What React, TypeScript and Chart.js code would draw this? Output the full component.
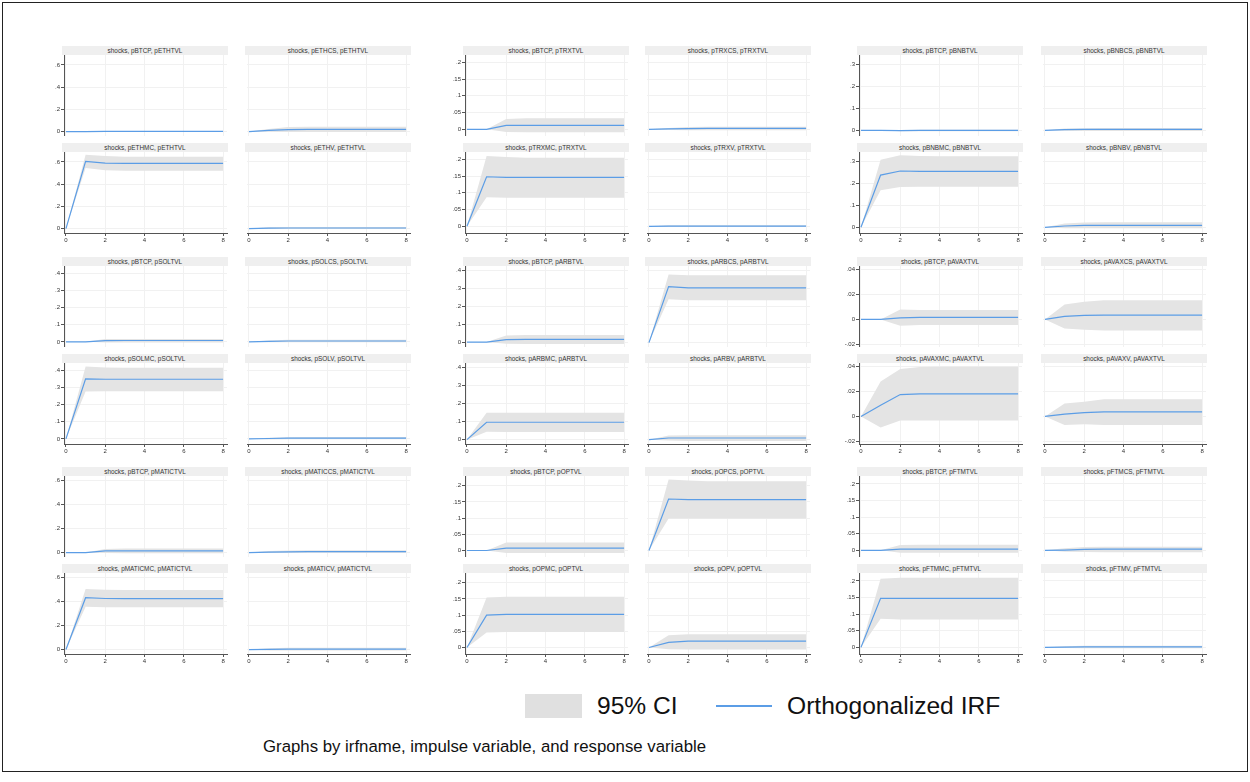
import React, { useEffect, useRef } from 'react';
import { Chart, registerables } from 'chart.js';
Chart.register(...registerables);

// ---------- DATA ----------
const steps = [0, 1, 2, 3, 4, 5, 6, 7, 8];
const xTicks = [0, 2, 4, 6, 8];

// panel titles, row-major (6 rows x 6 columns)
const titles = [
  'shocks, pBTCP, pETHTVL', 'shocks, pETHCS, pETHTVL', 'shocks, pBTCP, pTRXTVL', 'shocks, pTRXCS, pTRXTVL', 'shocks, pBTCP, pBNBTVL', 'shocks, pBNBCS, pBNBTVL',
  'shocks, pETHMC, pETHTVL', 'shocks, pETHV, pETHTVL', 'shocks, pTRXMC, pTRXTVL', 'shocks, pTRXV, pTRXTVL', 'shocks, pBNBMC, pBNBTVL', 'shocks, pBNBV, pBNBTVL',
  'shocks, pBTCP, pSOLTVL', 'shocks, pSOLCS, pSOLTVL', 'shocks, pBTCP, pARBTVL', 'shocks, pARBCS, pARBTVL', 'shocks, pBTCP, pAVAXTVL', 'shocks, pAVAXCS, pAVAXTVL',
  'shocks, pSOLMC, pSOLTVL', 'shocks, pSOLV, pSOLTVL', 'shocks, pARBMC, pARBTVL', 'shocks, pARBV, pARBTVL', 'shocks, pAVAXMC, pAVAXTVL', 'shocks, pAVAXV, pAVAXTVL',
  'shocks, pBTCP, pMATICTVL', 'shocks, pMATICCS, pMATICTVL', 'shocks, pBTCP, pOPTVL', 'shocks, pOPCS, pOPTVL', 'shocks, pBTCP, pFTMTVL', 'shocks, pFTMCS, pFTMTVL',
  'shocks, pMATICMC, pMATICTVL', 'shocks, pMATICV, pMATICTVL', 'shocks, pOPMC, pOPTVL', 'shocks, pOPV, pOPTVL', 'shocks, pFTMMC, pFTMTVL', 'shocks, pFTMV, pFTMTVL',
];

// Orthogonalized IRF, row-major
const irf = [
  [0, 0, 0.001, 0.001, 0.001, 0.001, 0.001, 0.001, 0.001],
  [0, 0.01, 0.018, 0.019, 0.019, 0.019, 0.019, 0.019, 0.019],
  [0, 0, 0.012, 0.012, 0.012, 0.012, 0.012, 0.012, 0.012],
  [0, 0.001, 0.002, 0.003, 0.003, 0.003, 0.003, 0.003, 0.003],
  [0, 0, -0.001, 0, 0, 0, 0, 0, 0],
  [0, 0.003, 0.004, 0.004, 0.004, 0.004, 0.004, 0.004, 0.004],

  [0, 0.605, 0.59, 0.588, 0.588, 0.588, 0.588, 0.588, 0.588],
  [0, 0.004, 0.005, 0.005, 0.005, 0.005, 0.005, 0.005, 0.005],
  [0, 0.148, 0.146, 0.146, 0.146, 0.146, 0.146, 0.146, 0.146],
  [0, 0.0005, 0.0005, 0.0005, 0.0005, 0.0005, 0.0005, 0.0005, 0.0005],
  [0, 0.239, 0.258, 0.256, 0.256, 0.256, 0.256, 0.256, 0.256],
  [0, 0.006, 0.009, 0.009, 0.009, 0.009, 0.009, 0.009, 0.009],

  [0, 0, 0.007, 0.008, 0.008, 0.008, 0.008, 0.008, 0.008],
  [0, 0.003, 0.005, 0.005, 0.005, 0.005, 0.005, 0.005, 0.005],
  [0.003, 0.003, 0.017, 0.018, 0.018, 0.018, 0.018, 0.018, 0.018],
  [0, 0.309, 0.302, 0.302, 0.302, 0.302, 0.302, 0.302, 0.302],
  [0, 0, 0.0013, 0.0016, 0.0016, 0.0016, 0.0016, 0.0016, 0.0016],
  [0, 0.0024, 0.0032, 0.0035, 0.0035, 0.0035, 0.0035, 0.0035, 0.0035],

  [0, 0.35, 0.348, 0.348, 0.348, 0.348, 0.348, 0.348, 0.348],
  [0, 0.002, 0.004, 0.004, 0.004, 0.004, 0.004, 0.004, 0.004],
  [0, 0.096, 0.096, 0.096, 0.096, 0.096, 0.096, 0.096, 0.096],
  [0, 0.009, 0.009, 0.009, 0.009, 0.009, 0.009, 0.009, 0.009],
  [0, 0.009, 0.0175, 0.018, 0.018, 0.018, 0.018, 0.018, 0.018],
  [0, 0.0019, 0.003, 0.0036, 0.0036, 0.0036, 0.0036, 0.0036, 0.0036],

  [0, 0, 0.014, 0.014, 0.014, 0.014, 0.014, 0.014, 0.014],
  [0, 0.003, 0.006, 0.007, 0.008, 0.008, 0.008, 0.008, 0.008],
  [0, 0, 0.0072, 0.0072, 0.0072, 0.0072, 0.0072, 0.0072, 0.0072],
  [0, 0.159, 0.157, 0.157, 0.157, 0.157, 0.157, 0.157, 0.157],
  [0, 0, 0.004, 0.004, 0.004, 0.004, 0.004, 0.004, 0.004],
  [0, 0.001, 0.003, 0.0035, 0.0035, 0.0035, 0.0035, 0.0035, 0.0035],

  [0, 0.431, 0.424, 0.423, 0.423, 0.423, 0.423, 0.423, 0.423],
  [0, 0.002, 0.003, 0.003, 0.003, 0.003, 0.003, 0.003, 0.003],
  [0, 0.1, 0.102, 0.102, 0.102, 0.102, 0.102, 0.102, 0.102],
  [0, 0.016, 0.0195, 0.0196, 0.0196, 0.0196, 0.0196, 0.0196, 0.0196],
  [0, 0.1475, 0.1475, 0.1475, 0.1475, 0.1475, 0.1475, 0.1475, 0.1475],
  [0, 0.0008, 0.0015, 0.0015, 0.0015, 0.0015, 0.0015, 0.0015, 0.0015],
];

// 95% CI lower bound, row-major
const ciLow = [
  [0, 0, -0.002, -0.003, -0.003, -0.003, -0.003, -0.003, -0.003],
  [0, -0.002, -0.004, -0.005, -0.005, -0.005, -0.005, -0.005, -0.005],
  [0, 0, -0.008, -0.009, -0.009, -0.009, -0.009, -0.009, -0.009],
  [0, -0.002, -0.003, -0.003, -0.003, -0.003, -0.003, -0.003, -0.003],
  [0, 0, -0.004, -0.004, -0.004, -0.004, -0.004, -0.004, -0.004],
  [0, -0.002, -0.003, -0.003, -0.003, -0.003, -0.003, -0.003, -0.003],

  [0, 0.545, 0.525, 0.522, 0.522, 0.522, 0.522, 0.522, 0.522],
  [0, -0.004, -0.005, -0.005, -0.005, -0.005, -0.005, -0.005, -0.005],
  [0, 0.087, 0.085, 0.085, 0.085, 0.085, 0.085, 0.085, 0.085],
  [0, -0.002, -0.002, -0.002, -0.002, -0.002, -0.002, -0.002, -0.002],
  [0, 0.17, 0.185, 0.186, 0.186, 0.186, 0.186, 0.186, 0.186],
  [0, -0.004, -0.004, -0.004, -0.004, -0.004, -0.004, -0.004, -0.004],

  [0, 0, -0.003, -0.004, -0.004, -0.004, -0.004, -0.004, -0.004],
  [0, -0.002, -0.002, -0.002, -0.002, -0.002, -0.002, -0.002, -0.002],
  [0.003, 0.003, -0.006, -0.007, -0.007, -0.007, -0.007, -0.007, -0.007],
  [0, 0.24, 0.234, 0.234, 0.234, 0.234, 0.234, 0.234, 0.234],
  [0, 0, -0.005, -0.0045, -0.0045, -0.0045, -0.0045, -0.0045, -0.0045],
  [0, -0.0073, -0.0083, -0.0089, -0.0089, -0.0089, -0.0089, -0.0089, -0.0089],

  [0, 0.277, 0.278, 0.278, 0.278, 0.278, 0.278, 0.278, 0.278],
  [0, -0.003, -0.002, -0.002, -0.002, -0.002, -0.002, -0.002, -0.002],
  [0, 0.043, 0.042, 0.042, 0.042, 0.042, 0.042, 0.042, 0.042],
  [0, -0.005, -0.007, -0.007, -0.007, -0.007, -0.007, -0.007, -0.007],
  [0, -0.0088, -0.0033, -0.0033, -0.0033, -0.0033, -0.0033, -0.0033, -0.0033],
  [0, -0.0068, -0.0063, -0.0068, -0.0068, -0.0068, -0.0068, -0.0068, -0.0068],

  [0, 0, -0.004, -0.005, -0.005, -0.005, -0.005, -0.005, -0.005],
  [0, -0.004, -0.004, -0.003, -0.003, -0.003, -0.003, -0.003, -0.003],
  [0, 0, -0.008, -0.008, -0.008, -0.008, -0.008, -0.008, -0.008],
  [0, 0.099, 0.099, 0.099, 0.099, 0.099, 0.099, 0.099, 0.099],
  [0, 0, -0.007, -0.007, -0.007, -0.007, -0.007, -0.007, -0.007],
  [0, -0.004, -0.005, -0.006, -0.006, -0.006, -0.006, -0.006, -0.006],

  [0, 0.356, 0.352, 0.351, 0.351, 0.351, 0.351, 0.351, 0.351],
  [0, -0.007, -0.008, -0.008, -0.008, -0.008, -0.008, -0.008, -0.008],
  [0, 0.046, 0.048, 0.048, 0.048, 0.048, 0.048, 0.048, 0.048],
  [0, -0.005, -0.006, -0.006, -0.006, -0.006, -0.006, -0.006, -0.006],
  [0, 0.086, 0.084, 0.084, 0.084, 0.084, 0.084, 0.084, 0.084],
  [0, -0.002, -0.003, -0.003, -0.003, -0.003, -0.003, -0.003, -0.003],
];

// 95% CI upper bound, row-major
const ciHigh = [
  [0, 0, 0.004, 0.005, 0.005, 0.005, 0.005, 0.005, 0.005],
  [0, 0.022, 0.04, 0.043, 0.044, 0.044, 0.044, 0.044, 0.044],
  [0, 0, 0.031, 0.033, 0.033, 0.033, 0.033, 0.033, 0.033],
  [0, 0.004, 0.007, 0.008, 0.008, 0.008, 0.008, 0.008, 0.008],
  [0, 0, 0.002, 0.003, 0.003, 0.003, 0.003, 0.003, 0.003],
  [0, 0.008, 0.01, 0.011, 0.011, 0.011, 0.011, 0.011, 0.011],

  [0, 0.665, 0.655, 0.648, 0.647, 0.647, 0.647, 0.647, 0.647],
  [0, 0.012, 0.015, 0.015, 0.015, 0.015, 0.015, 0.015, 0.015],
  [0, 0.21, 0.207, 0.205, 0.205, 0.205, 0.205, 0.205, 0.205],
  [0, 0.003, 0.003, 0.003, 0.003, 0.003, 0.003, 0.003, 0.003],
  [0, 0.31, 0.33, 0.327, 0.326, 0.326, 0.326, 0.326, 0.326],
  [0, 0.018, 0.022, 0.023, 0.023, 0.023, 0.023, 0.023, 0.023],

  [0, 0, 0.016, 0.017, 0.017, 0.017, 0.017, 0.017, 0.017],
  [0, 0.008, 0.012, 0.013, 0.013, 0.013, 0.013, 0.013, 0.013],
  [0.003, 0.003, 0.04, 0.042, 0.042, 0.042, 0.042, 0.042, 0.042],
  [0, 0.376, 0.372, 0.372, 0.372, 0.372, 0.372, 0.372, 0.372],
  [0, 0, 0.008, 0.0075, 0.0075, 0.0075, 0.0075, 0.0075, 0.0075],
  [0, 0.012, 0.0142, 0.0153, 0.0153, 0.0153, 0.0153, 0.0153, 0.0153],

  [0, 0.423, 0.417, 0.415, 0.415, 0.415, 0.415, 0.415, 0.415],
  [0, 0.007, 0.01, 0.011, 0.011, 0.011, 0.011, 0.011, 0.011],
  [0, 0.148, 0.148, 0.148, 0.148, 0.148, 0.148, 0.148, 0.148],
  [0, 0.023, 0.024, 0.024, 0.024, 0.024, 0.024, 0.024, 0.024],
  [0, 0.028, 0.038, 0.0395, 0.0397, 0.0397, 0.0397, 0.0397, 0.0397],
  [0, 0.0104, 0.0118, 0.0137, 0.0137, 0.0137, 0.0137, 0.0137, 0.0137],

  [0, 0, 0.03, 0.033, 0.033, 0.033, 0.033, 0.033, 0.033],
  [0, 0.012, 0.017, 0.019, 0.019, 0.019, 0.019, 0.019, 0.019],
  [0, 0, 0.025, 0.025, 0.025, 0.025, 0.025, 0.025, 0.025],
  [0, 0.219, 0.216, 0.214, 0.214, 0.214, 0.214, 0.214, 0.214],
  [0, 0, 0.016, 0.017, 0.017, 0.017, 0.017, 0.017, 0.017],
  [0, 0.006, 0.01, 0.011, 0.011, 0.011, 0.011, 0.011, 0.011],

  [0, 0.503, 0.497, 0.494, 0.494, 0.494, 0.494, 0.494, 0.494],
  [0, 0.011, 0.014, 0.014, 0.014, 0.014, 0.014, 0.014, 0.014],
  [0, 0.154, 0.157, 0.157, 0.157, 0.157, 0.157, 0.157, 0.157],
  [0, 0.038, 0.041, 0.041, 0.041, 0.041, 0.041, 0.041, 0.041],
  [0, 0.207, 0.21, 0.21, 0.21, 0.21, 0.21, 0.21, 0.21],
  [0, 0.003, 0.005, 0.005, 0.005, 0.005, 0.005, 0.005, 0.005],
];

// y-axis per block (ETH, TRX, BNB, SOL, ARB, AVAX, MATIC, OP, FTM)
const blockYMin = [-0.04, -0.02, -0.026, -0.03, -0.024, -0.022, -0.037, -0.02, -0.02];
const blockYMax = [0.69, 0.222, 0.345, 0.443, 0.423, 0.0427, 0.636, 0.23, 0.224];
const blockYTicks = [
  [0, 0.2, 0.4, 0.6],
  [0, 0.05, 0.1, 0.15, 0.2],
  [0, 0.1, 0.2, 0.3],
  [0, 0.1, 0.2, 0.3, 0.4],
  [0, 0.1, 0.2, 0.3, 0.4],
  [-0.02, 0, 0.02, 0.04],
  [0, 0.2, 0.4, 0.6],
  [0, 0.05, 0.1, 0.15, 0.2],
  [0, 0.05, 0.1, 0.15, 0.2],
];

// ---------- LAYOUT ----------
const FONT = '"Liberation Sans", Arial, sans-serif';
const blockLeft = [64, 465, 859];
const colPitch = [183, 182, 184];
const blockTop = [46, 257, 467];
const rowPitch = 97;
const stripH = 9;
const plotW = 163;
const plotH = 81;
const yAxisW = 22;
const xAxisH = 14;
const padR = 6;
const X_MIN = -0.1;
const X_MAX = 8.2;

const BLUE = '#5b9de6';
const BAND = '#e4e4e4';
const AXIS = '#555555';
const GRID = '#f1f1f1';

function fmt(v: number): string {
  const s = Number(v.toFixed(4)).toString();
  return s.replace(/^(-?)0\./, '$1.');
}

function Panel({ idx }: { idx: number }) {
  const ref = useRef<HTMLCanvasElement | null>(null);
  const R = Math.floor(idx / 6);
  const C = idx % 6;
  const br = Math.floor(R / 2);
  const r = R % 2;
  const bc = Math.floor(C / 2);
  const c = C % 2;
  const b = br * 3 + bc;
  const hasY = c === 0;
  const hasX = r === 1;
  const plotLeft = blockLeft[bc] + c * colPitch[bc];
  const stripTop = blockTop[br] + r * rowPitch;
  const plotTop = stripTop + stripH;
  const leftW = hasY ? yAxisW : 0;
  const bottomH = hasX ? xAxisH : 0;
  const cw = leftW + plotW + padR;
  const ch = plotH + bottomH;

  useEffect(() => {
    if (!ref.current) return;
    const chart = new Chart(ref.current, {
      type: 'line',
      data: {
        datasets: [
          {
            label: 'ciHigh',
            data: steps.map((x, i) => ({ x, y: ciHigh[idx][i] })),
            fill: '+1',
            backgroundColor: BAND,
            borderWidth: 0,
            borderColor: 'rgba(0,0,0,0)',
            pointRadius: 0,
            tension: 0,
            order: 2,
          },
          {
            label: 'ciLow',
            data: steps.map((x, i) => ({ x, y: ciLow[idx][i] })),
            fill: false,
            borderWidth: 0,
            borderColor: 'rgba(0,0,0,0)',
            pointRadius: 0,
            tension: 0,
            order: 3,
          },
          {
            label: 'irf',
            data: steps.map((x, i) => ({ x, y: irf[idx][i] })),
            fill: false,
            borderColor: BLUE,
            borderWidth: 1.2,
            pointRadius: 0,
            tension: 0,
            order: 0,
          },
        ],
      },
      options: {
        responsive: false,
        animation: false,
        events: [],
        layout: { padding: { left: 0, right: padR, top: 0, bottom: 0 } },
        plugins: {
          legend: { display: false },
          tooltip: { enabled: false },
          title: { display: false },
        },
        scales: {
          x: {
            type: 'linear',
            min: X_MIN,
            max: X_MAX,
            afterBuildTicks: (s: any) => {
              s.ticks = xTicks.map((v) => ({ value: v }));
            },
            afterFit: (s: any) => {
              s.height = bottomH;
              s.paddingLeft = 0;
              s.paddingRight = 0;
            },
            grid: {
              color: GRID,
              lineWidth: 1,
              drawTicks: hasX,
              tickLength: 3,
              tickColor: AXIS,
            },
            border: { display: hasX, color: AXIS, width: 1 },
            ticks: {
              display: hasX,
              font: { family: FONT, size: 6 },
              color: '#333333',
              padding: 1,
              maxRotation: 0,
              autoSkip: false,
              callback: (v: any) => String(v),
            },
          },
          y: {
            type: 'linear',
            min: blockYMin[b],
            max: blockYMax[b],
            afterBuildTicks: (s: any) => {
              s.ticks = blockYTicks[b].map((v) => ({ value: v }));
            },
            afterFit: (s: any) => {
              s.width = leftW;
              s.paddingTop = 0;
              s.paddingBottom = 0;
            },
            grid: {
              color: GRID,
              lineWidth: 1,
              drawTicks: hasY,
              tickLength: 3,
              tickColor: AXIS,
            },
            border: { display: hasY, color: AXIS, width: 1 },
            ticks: {
              display: hasY,
              font: { family: FONT, size: 6 },
              color: '#333333',
              padding: 1,
              autoSkip: false,
              callback: (v: any) => fmt(Number(v)),
            },
          },
        },
      },
    } as any);
    return () => chart.destroy();
  }, [idx]);

  return (
    <>
      <div
        style={{
          position: 'absolute',
          left: plotLeft - 2,
          top: stripTop,
          width: plotW + 3,
          height: stripH,
          background: '#efefef',
          color: '#333',
          fontFamily: FONT,
          fontSize: 6.4,
          lineHeight: `${stripH}px`,
          textAlign: 'center',
          whiteSpace: 'nowrap',
        }}
      >
        {titles[idx]}
      </div>
      <canvas
        ref={ref}
        width={cw}
        height={ch}
        style={{ position: 'absolute', left: plotLeft - leftW, top: plotTop, width: cw, height: ch }}
      />
    </>
  );
}

export default function App() {
  return (
    <div
      style={{
        position: 'fixed',
        left: 0,
        top: 0,
        width: 1250,
        height: 782,
        background: '#ffffff',
        overflow: 'hidden',
      }}
    >
      <div
        style={{
          position: 'absolute',
          left: 2,
          top: 2,
          width: 1244,
          height: 768,
          border: '1px solid #222',
        }}
      />
      {titles.map((_, i) => (
        <Panel key={i} idx={i} />
      ))}
      {/* legend */}
      <div style={{ position: 'absolute', left: 525, top: 694, width: 57, height: 24, background: '#e0e0e0' }} />
      <div
        style={{
          position: 'absolute',
          left: 597,
          top: 692,
          height: 28,
          lineHeight: '28px',
          fontFamily: FONT,
          fontSize: 24.6,
          color: '#111',
          whiteSpace: 'nowrap',
        }}
      >
        95% CI
      </div>
      <div style={{ position: 'absolute', left: 716, top: 705, width: 56, height: 1.5, background: BLUE }} />
      <div
        style={{
          position: 'absolute',
          left: 787,
          top: 692,
          height: 28,
          lineHeight: '28px',
          fontFamily: FONT,
          fontSize: 24.6,
          color: '#111',
          whiteSpace: 'nowrap',
        }}
      >
        Orthogonalized IRF
      </div>
      <div
        style={{
          position: 'absolute',
          left: 263,
          top: 737,
          height: 20,
          lineHeight: '20px',
          fontFamily: FONT,
          fontSize: 16.8,
          color: '#111',
          whiteSpace: 'nowrap',
        }}
      >
        Graphs by irfname, impulse variable, and response variable
      </div>
    </div>
  );
}
